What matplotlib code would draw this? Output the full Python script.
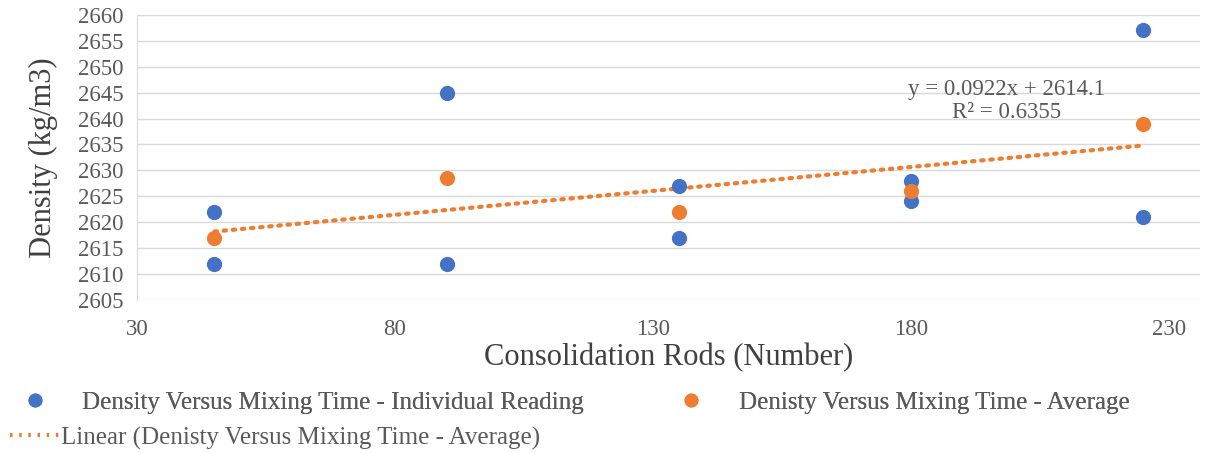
import numpy as np
import matplotlib.pyplot as plt
from matplotlib.lines import Line2D

plt.rcParams['font.family'] = ['Liberation Serif', 'DejaVu Serif']

rods = [45, 90, 135, 180, 225]
reading_1 = [2622, 2645, 2627, 2628, 2657]
reading_2 = [2612, 2612, 2617, 2624, 2621]
average = [2617, 2628.5, 2622, 2626, 2639]

x_ticks = [30, 80, 130, 180, 230]
y_ticks = list(range(2605, 2661, 5))

blue = "#4472C4"
orange = "#ED7D31"
grey = "#595959"
dots = (0, (0.6, 1.6))

# linear trendline through the averages
slope, intercept = np.polyfit(rods, average, 1)
fit = np.polyval([slope, intercept], rods)
r2 = 1 - np.sum((np.array(average) - fit) ** 2) / np.sum((np.array(average) - np.mean(average)) ** 2)

fig = plt.figure(figsize=(12.13, 4.53), dpi=100)
ax = fig.add_axes([0.113, 0.338, 0.876, 0.629])

ax.plot(rods, fit, linestyle=dots, color=orange, linewidth=3,
        dash_capstyle="round", zorder=2)
ax.scatter(rods + rods, reading_1 + reading_2, s=120, color=blue, zorder=3, linewidths=0)
ax.scatter(rods, average, s=120, color=orange, zorder=4, linewidths=0)

ax.text(0.818, 0.775, "y = %.4fx + %.1f\nR² = %.4f" % (slope, intercept, r2),
        transform=ax.transAxes, ha="center", va="top", fontsize=16.5, color=grey,
        linespacing=1.1)

ax.set_xlim(30, 236)
ax.set_ylim(2605, 2660)
ax.set_xticks(x_ticks)
ax.set_yticks(y_ticks)
ax.grid(axis="y", color="#d9d9d9", linewidth=1)
ax.set_axisbelow(True)
for side in ["top", "right", "bottom"]:
    ax.spines[side].set_visible(False)
ax.spines["left"].set_color("#d9d9d9")
ax.tick_params(length=0, labelsize=16.5, colors=grey, pad=10)
ax.tick_params(axis="x", pad=14)

ax.set_xlabel("Consolidation Rods (Number)", fontsize=22, color="#404040", labelpad=2)
ax.set_ylabel("Density (kg/m3)", fontsize=22, color="#404040", labelpad=14)

# legend row 1: the two marker series
row1 = fig.legend(
    [Line2D([], [], marker="o", linestyle="none", color=blue, markersize=9),
     Line2D([], [], marker="o", linestyle="none", color=orange, markersize=9)],
    ["Density Versus Mixing Time - Individual Reading",
     "Denisty Versus Mixing Time - Average"],
    ncol=2, loc="center left", bbox_to_anchor=(0.008, 0.112),
    frameon=False, fontsize=18, labelcolor=grey, handlelength=2.0,
    handletextpad=0.9, columnspacing=3.3, borderpad=0.0, borderaxespad=0.0)
fig.add_artist(row1)

# legend row 2: the trendline
fig.legend(
    [Line2D([], [], linestyle=dots, color=orange, linewidth=3)],
    ["Linear (Denisty Versus Mixing Time - Average)"],
    loc="center left", bbox_to_anchor=(0.008, 0.033),
    frameon=False, fontsize=18, labelcolor=grey, handlelength=2.0,
    handletextpad=0.05, borderpad=0.0, borderaxespad=0.0)

fig.savefig("out.png")
